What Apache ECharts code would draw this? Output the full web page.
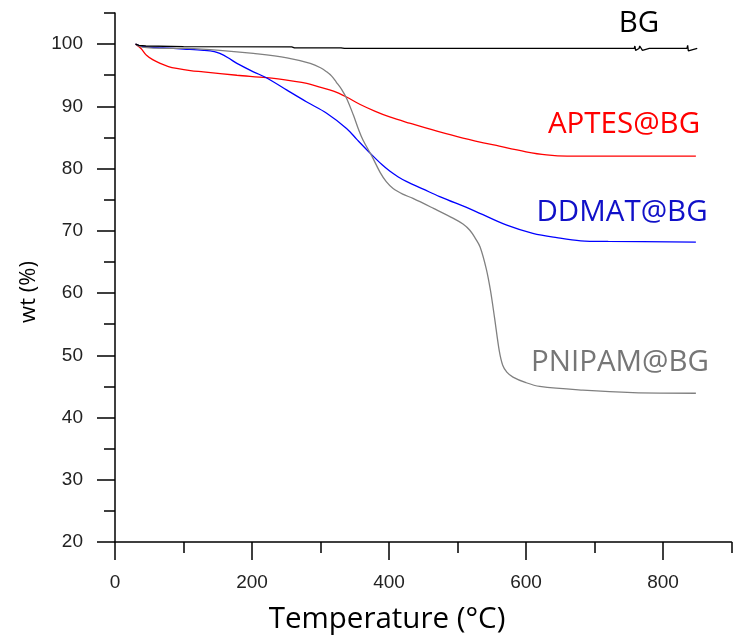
<!DOCTYPE html>
<html>
<head>
<meta charset="utf-8">
<script src="https://cdn.jsdelivr.net/npm/echarts@6/dist/echarts.min.js"></script>
<style>html,body{margin:0;padding:0;background:#fff}#c{width:734px;height:638px}</style>
</head>
<body>
<div id="c"></div>
<script>
// ---- data ----
const bgT   = [30, 35, 45, 100, 258, 262, 330, 335, 400, 500, 600, 700, 758, 759, 760, 765, 766, 770, 771, 780, 781, 782, 835, 836, 837, 850];
const bgV   = [100, 99.8, 99.7, 99.6, 99.57, 99.41, 99.41, 99.31, 99.31, 99.3, 99.3, 99.3, 99.3, 99.7, 99.0, 99.3, 99.7, 99.0, 99.3, 99.3, 99.5, 99.3, 99.3, 99.8, 98.9, 99.3];

const aptesT = [30, 38, 46, 55, 66, 78, 90, 110, 129, 178, 221, 260, 280, 299, 319, 338, 358, 380, 401, 430, 470, 508, 561, 600, 630, 660, 707, 760, 848];
const aptesV = [100, 99.3, 98.2, 97.5, 96.9, 96.4, 96.1, 95.75, 95.55, 95.0, 94.6, 94.06, 93.7, 93.1, 92.45, 91.5, 90.3, 89.2, 88.3, 87.3, 86.0, 84.9, 83.6, 82.7, 82.2, 82.0, 82.0, 82.0, 82.0];

const ddmatT = [30, 40, 70, 100, 129, 145, 153, 165, 178, 202, 221, 251, 280, 309, 338, 353, 375, 390, 401, 413, 426, 450, 474, 523, 572, 610, 645, 680, 720, 848];
const ddmatV = [100, 99.6, 99.4, 99.2, 99.0, 98.8, 98.5, 97.8, 96.9, 95.55, 94.6, 92.6, 90.7, 88.9, 86.45, 84.7, 82.2, 80.6, 79.6, 78.7, 77.9, 76.7, 75.5, 73.3, 70.9, 69.6, 68.9, 68.4, 68.3, 68.2];

const pnipamT = [30, 40, 60, 105, 153, 202, 251, 285, 300, 309, 316, 323, 331, 338, 348, 355, 362, 375, 387, 396, 406, 420, 435, 465, 494, 508, 518, 526, 533, 542, 548, 554, 561, 566, 572, 581, 600, 620, 683, 756, 848];
const pnipamV = [100, 99.5, 99.35, 99.3, 99.0, 98.5, 97.8, 96.9, 96.2, 95.55, 94.9, 93.9, 92.7, 91.3, 88.6, 86.45, 84.6, 82.0, 79.4, 77.9, 76.8, 75.9, 75.2, 73.6, 72.0, 71.1, 70.1, 68.8, 67.4, 63.9, 60.5, 56.1, 50.7, 48.4, 47.3, 46.5, 45.6, 45.0, 44.4, 44.0, 43.9];

const xMajorTicks = [0, 200, 400, 600, 800];
const xMinorTicks = [100, 300, 500, 700, 900];
const yMajorTicks = [20, 30, 40, 50, 60, 70, 80, 90, 100];
const yMinorTicks = [25, 35, 45, 55, 65, 75, 85, 95, 105];

const seriesNames = ['BG', 'APTES@BG', 'DDMAT@BG', 'PNIPAM@BG'];
const xTitle = 'Temperature (°C)';
const yTitle = 'wt (%)';

// ---- chart ----
const pairs = (t, v) => t.map((x, i) => [x, v[i]]);
const chart = echarts.init(document.getElementById('c'), null, {renderer: 'canvas'});
const axisLine = {show: true, lineStyle: {color: '#000', width: 1.5}};
const labelFont = {color: '#222', fontFamily: 'Liberation Sans, Arial, sans-serif', fontSize: 19};

chart.setOption({
  animation: false,
  backgroundColor: '#fff',
  grid: {left: 115, right: 2.5, top: 13, bottom: 96, containLabel: false},
  xAxis: [
    {type: 'value', min: 0, max: 900, position: 'bottom',
     axisLine: axisLine,
     axisTick: {show: true, length: 18, customValues: xMajorTicks, lineStyle: {color: '#000', width: 1.5}},
     axisLabel: Object.assign({customValues: xMajorTicks, margin: 31}, labelFont),
     splitLine: {show: false}},
    {type: 'value', min: 0, max: 900, position: 'bottom',
     axisLine: {show: false},
     axisTick: {show: true, length: 11, customValues: xMinorTicks, lineStyle: {color: '#000', width: 1.5}},
     axisLabel: {show: false}, splitLine: {show: false}}
  ],
  yAxis: [
    {type: 'value', min: 20, max: 105, position: 'left',
     axisLine: axisLine,
     axisTick: {show: true, length: 18, customValues: yMajorTicks, lineStyle: {color: '#000', width: 1.5}},
     axisLabel: Object.assign({customValues: yMajorTicks, margin: 32}, labelFont),
     splitLine: {show: false}},
    {type: 'value', min: 20, max: 105, position: 'left',
     axisLine: {show: false},
     axisTick: {show: true, length: 11, customValues: yMinorTicks, lineStyle: {color: '#000', width: 1.5}},
     axisLabel: {show: false}, splitLine: {show: false}}
  ],
  series: [
    {name: seriesNames[0], type: 'line', data: pairs(bgT, bgV), showSymbol: false, lineStyle: {color: '#000', width: 1.3}, z: 5},
    {name: seriesNames[1], type: 'line', data: pairs(aptesT, aptesV), showSymbol: false, smooth: 0.35, lineStyle: {color: '#ff0000', width: 1.3}},
    {name: seriesNames[2], type: 'line', data: pairs(ddmatT, ddmatV), showSymbol: false, smooth: 0.35, lineStyle: {color: '#0000ff', width: 1.3}},
    {name: seriesNames[3], type: 'line', data: pairs(pnipamT, pnipamV), showSymbol: false, smooth: 0.35, lineStyle: {color: '#808080', width: 1.3}}
  ],
  graphic: [
    {type: 'text', x: 639, y: 24, style: {text: seriesNames[0], fill: '#000', font: '29.5px "Open Sans", sans-serif', textAlign: 'center', textVerticalAlign: 'middle'}},
    {type: 'text', x: 624, y: 125, style: {text: seriesNames[1], fill: '#ff0000', font: '29.5px "Open Sans", sans-serif', textAlign: 'center', textVerticalAlign: 'middle'}},
    {type: 'text', x: 622, y: 213, style: {text: seriesNames[2], fill: '#1010c8', font: '29.5px "Open Sans", sans-serif', textAlign: 'center', textVerticalAlign: 'middle'}},
    {type: 'text', x: 620, y: 363, style: {text: seriesNames[3], fill: '#767676', font: '29.5px "Open Sans", sans-serif', textAlign: 'center', textVerticalAlign: 'middle'}},
    {type: 'text', x: 387, y: 620, style: {text: xTitle, fill: '#000', font: '29.5px "Open Sans", sans-serif', textAlign: 'center', textVerticalAlign: 'middle'}},
    {type: 'text', x: 29, y: 292, rotation: Math.PI / 2, style: {text: yTitle, fill: '#000', font: '22px "Open Sans", sans-serif', textAlign: 'center', textVerticalAlign: 'middle'}}
  ]
});
</script>
</body>
</html>
